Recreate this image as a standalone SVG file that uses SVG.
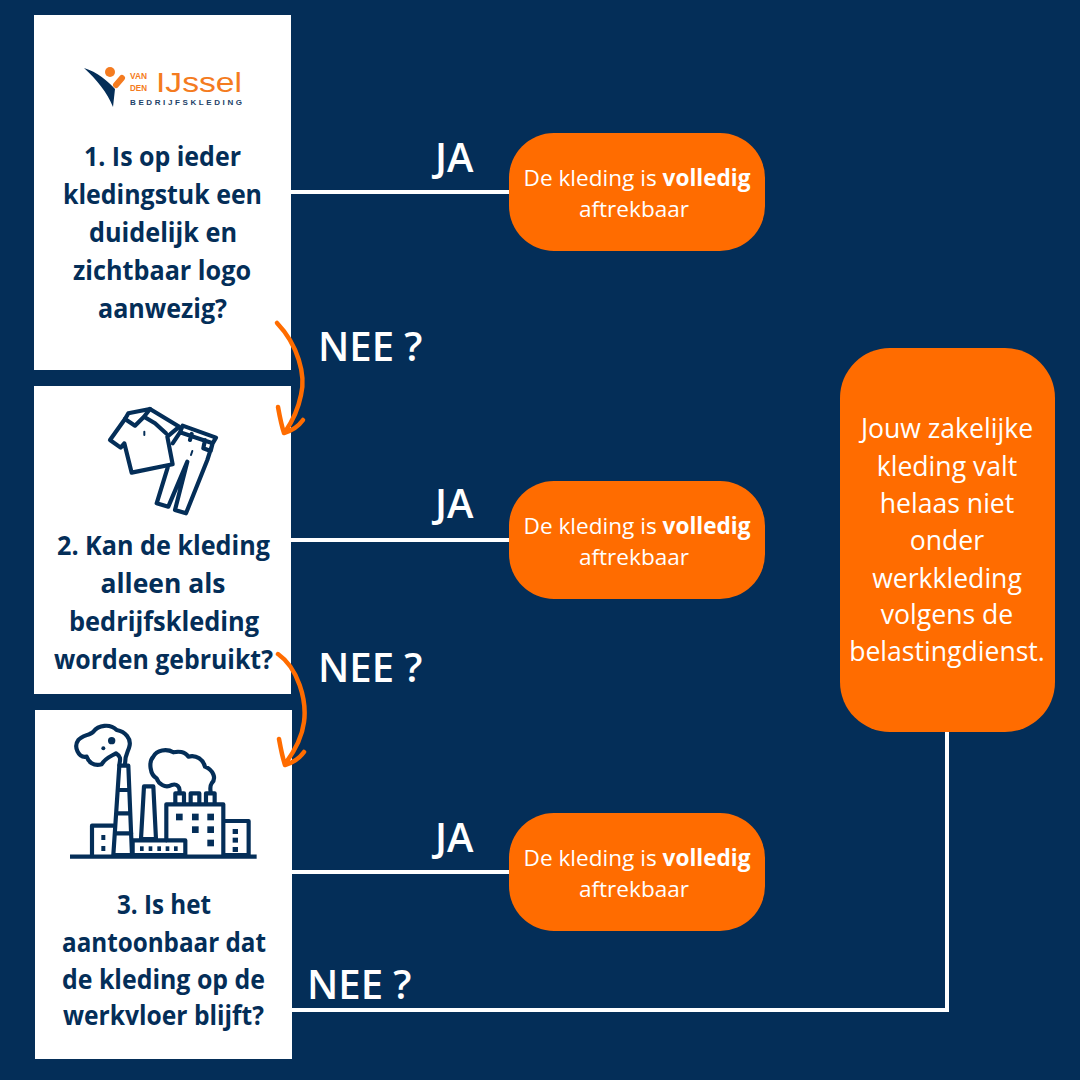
<svg xmlns="http://www.w3.org/2000/svg" width="1080" height="1080" viewBox="0 0 1080 1080">
<style>
.card{fill:#fff}
.pill{fill:#ff6c00}
.q{font:700 26px "Open Sans",sans-serif;fill:#042e58;text-anchor:middle}
.lbl{font:600 40px "Open Sans",sans-serif;fill:#fff}
.a{font:400 22.6px "Open Sans",sans-serif;fill:#fff;text-anchor:middle}
.r{font:400 26.6px "Open Sans",sans-serif;fill:#fff;text-anchor:middle}
.wire{fill:none;stroke:#fff;stroke-width:4}
.curve{fill:none;stroke:#ff6c00;stroke-width:4.5;stroke-linecap:round;stroke-linejoin:round}
.ic{fill:none;stroke:#042e58;stroke-width:12.5;stroke-linejoin:round;stroke-linecap:round}
.thin{stroke-width:6}
.icf{fill:#042e58}
</style>
<rect width="1080" height="1080" fill="#042e58"/>
<g id="connectors">
<path class="wire" d="M291 192H509"/>
<path class="wire" d="M291 540H509"/>
<path class="wire" d="M291 872H509"/>
<path class="wire" d="M292 1010H947V732"/>
</g>
<g id="node-q1">
<rect class="card" x="34" y="15" width="257" height="355"/>
<path fill="#042e58" d="M84 68C97 72 108 81 115 89L113 107C107 92 97 80 84 68Z"/>
<circle cx="110" cy="72" r="5" fill="#f47b20"/>
<path d="M116 85L122 78" stroke="#f47b20" stroke-width="6" stroke-linecap="round"/>
<text x="130" y="79" font-family="Liberation Sans,sans-serif" font-size="9.500" font-weight="700" fill="#f47b20" textLength="17" lengthAdjust="spacingAndGlyphs">VAN</text>
<text x="130" y="91" font-family="Liberation Sans,sans-serif" font-size="9.500" font-weight="700" fill="#f47b20" textLength="17" lengthAdjust="spacingAndGlyphs">DEN</text>
<text x="156" y="92" font-family="Liberation Sans,sans-serif" font-size="27" fill="#f47b20" textLength="86" lengthAdjust="spacingAndGlyphs">IJssel</text>
<text x="130" y="105" font-family="Liberation Sans,sans-serif" font-size="8" font-weight="700" fill="#1d4268" textLength="112">BEDRIJFSKLEDING</text>
<text class="q" x="162.500" y="166" textLength="157" lengthAdjust="spacingAndGlyphs">1. Is op ieder</text>
<text class="q" x="162.500" y="204" textLength="199" lengthAdjust="spacingAndGlyphs">kledingstuk een</text>
<text class="q" x="163" y="242" textLength="148" lengthAdjust="spacingAndGlyphs">duidelijk en</text>
<text class="q" x="162" y="280" textLength="178" lengthAdjust="spacingAndGlyphs">zichtbaar logo</text>
<text class="q" x="162.500" y="318" textLength="129" lengthAdjust="spacingAndGlyphs">aanwezig?</text>
</g>
<g id="node-q2">
<rect class="card" x="34" y="386" width="257" height="308"/>
<g transform="translate(90 395) scale(.3333)">
<path class="ic" d="M115 55L180 42L268 95L232 125L248 208L125 233L103 145L92 158L60 135L105 72Z"/>
<path class="ic" d="M105 72L135 92L162 65L180 42M162 65L195 85L228 115"/>
<path class="ic thin" d="M163 110V120"/>
<path class="ic" d="M270 112L278 92L378 128L368 145ZM270 112L248 145M345 135L340 160L362 168L368 145M305 117L300 135M368 145L352 195L288 355L255 345L292 200L235 335L200 325L233 218"/>
<path class="ic thin" d="M307 168L303 180"/>
</g>
<text class="q" x="163.500" y="555" textLength="213" lengthAdjust="spacingAndGlyphs">2. Kan de kleding</text>
<text class="q" x="163" y="593" textLength="125" lengthAdjust="spacingAndGlyphs">alleen als</text>
<text class="q" x="164" y="631" textLength="190" lengthAdjust="spacingAndGlyphs">bedrijfskleding</text>
<text class="q" x="163.500" y="669" textLength="219" lengthAdjust="spacingAndGlyphs">worden gebruikt?</text>
</g>
<g id="node-q3">
<rect class="card" x="35" y="710" width="257" height="349"/>
<g transform="translate(60 715) scale(.3333)">
<path d="M30 425H590" stroke="#042e58" stroke-width="13"/>
<path class="ic" d="M178 152H205L216 420H160ZM175 225H208M172 295H210M165 355H214"/>
<path class="ic" d="M252 214H280L288 372H243Z"/>
<path class="ic" d="M160 332H96V420"/>
<path class="ic" d="M218 376H376V420H218Z"/>
<path class="ic" d="M319 376V268H490V420M490 318H566V420H490"/>
<path class="ic" d="M346 265V235H372V265M392 265V235H418V265M438 265V235H464V265"/>
<path class="ic" d="M178 150C180 135 185 125 168 115C150 125 135 130 125 148C100 155 85 140 80 125C55 130 40 95 55 75C65 62 90 60 100 50C115 30 150 25 170 45C195 50 215 70 208 95C205 110 195 115 195 148"/>
<path class="ic" d="M358 233C362 215 350 205 335 210C315 222 295 205 290 190C270 180 265 140 280 125C290 105 320 100 340 112C355 108 375 110 385 125C410 118 430 135 435 155C460 165 470 190 455 205C448 215 452 225 452 233"/>
<circle class="icf" cx="155" cy="77" r="11"/>
<circle class="icf" cx="130" cy="100" r="6"/>
<g class="icf"><rect x="348" y="296" width="20" height="20"/><rect x="396" y="296" width="20" height="20"/><rect x="442" y="296" width="20" height="20"/><rect x="396" y="334" width="20" height="20"/><rect x="442" y="334" width="20" height="20"/><rect x="442" y="374" width="20" height="20"/><rect x="518" y="342" width="16" height="15"/><rect x="518" y="368" width="16" height="15"/><rect x="518" y="396" width="16" height="15"/><rect x="124" y="360" width="12" height="15"/><rect x="124" y="393" width="12" height="15"/><rect x="240" y="394" width="11" height="14"/><rect x="266" y="394" width="11" height="14"/><rect x="292" y="394" width="11" height="14"/><rect x="317" y="394" width="11" height="14"/><rect x="342" y="394" width="11" height="14"/></g>
</g>
<text class="q" x="164" y="914" textLength="94" lengthAdjust="spacingAndGlyphs">3. Is het</text>
<text class="q" x="164" y="952" textLength="204" lengthAdjust="spacingAndGlyphs">aantoonbaar dat</text>
<text class="q" x="163.500" y="989" textLength="203" lengthAdjust="spacingAndGlyphs">de kleding op de</text>
<text class="q" x="163.500" y="1025" textLength="201" lengthAdjust="spacingAndGlyphs">werkvloer blijft?</text>
</g>
<g id="node-a1"><rect class="pill" x="509" y="133" width="256" height="118" rx="45"/>
<text class="a" x="637" y="185.500">De kleding is <tspan font-weight="700">volledig</tspan></text><text class="a" x="634" y="216.500">aftrekbaar</text></g>
<g id="node-a2"><rect class="pill" x="509" y="481" width="256" height="118" rx="45"/>
<text class="a" x="637" y="533.500">De kleding is <tspan font-weight="700">volledig</tspan></text><text class="a" x="634" y="564.500">aftrekbaar</text></g>
<g id="node-a3"><rect class="pill" x="509" y="813" width="256" height="118" rx="45"/>
<text class="a" x="637" y="865.500">De kleding is <tspan font-weight="700">volledig</tspan></text><text class="a" x="634" y="896.500">aftrekbaar</text></g>
<g id="node-result"><rect class="pill" x="840" y="348" width="215" height="384" rx="50"/>
<text class="r" x="947" y="438">Jouw zakelijke</text>
<text class="r" x="947" y="476">kleding valt</text>
<text class="r" x="947" y="513">helaas niet</text>
<text class="r" x="947" y="550">onder</text>
<text class="r" x="947" y="588">werkkleding</text>
<text class="r" x="947" y="624">volgens de</text>
<text class="r" x="947" y="661">belastingdienst.</text></g>
<g id="edge-labels">
<text class="lbl" x="435" y="172">JA</text>
<text class="lbl" x="435" y="518">JA</text>
<text class="lbl" x="435" y="852">JA</text>
<text class="lbl" x="318" y="361">NEE ?</text>
<text class="lbl" x="318" y="682">NEE ?</text>
<text class="lbl" x="307" y="999">NEE ?</text>
</g>
<g id="curved-arrows">
<path class="curve" d="M277 323C298 345 306 375 301 395C298 410 292 422 285 432M278 407C280 418 282 427 284 433C291 431 298 427 303 420"/>
<path class="curve" d="M278 654C298 668 307 700 304 722C302 738 294 752 285 764M279 739C281 750 283 759 285 765C292 763 299 759 304 752"/>
</g>
</svg>
